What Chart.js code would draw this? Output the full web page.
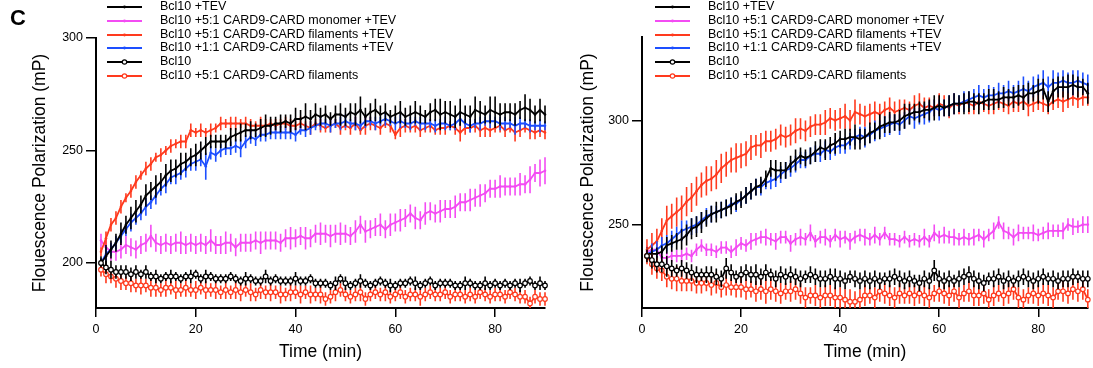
<!DOCTYPE html>
<html>
<head>
<meta charset="utf-8">
<script src="https://cdn.jsdelivr.net/npm/chart.js@4.4.1/dist/chart.umd.min.js"></script>
<style>
  body { margin: 0; background: #fff; font-family: "Liberation Sans", Arial, sans-serif; }
  #wrap { position: relative; width: 1093px; height: 368px; overflow: hidden; }
  #wrap canvas { position: absolute; top: 0; }
  .tag { position: absolute; left: 10px; top: 5px; font-weight: bold; font-size: 22px; }
  .legend { position: absolute; top: 0; font-size: 12.5px; color: #000; }
  .row { position: absolute; left: 0; height: 14px; white-space: nowrap; }
  .row svg { position: absolute; left: 0; top: 0; }
  .row span { position: absolute; top: -1px; line-height: 14px; }
</style>
</head>
<body>
<div id="wrap">
  <canvas id="left" width="560" height="368" style="left:0"></canvas>
  <canvas id="right" width="545" height="368" style="left:548px"></canvas>
  <div class="tag">C</div>
  <div class="legend" id="legL" style="left:107px"></div>
  <div class="legend" id="legR" style="left:655px"></div>
</div>
<script>
// time points (min)
const TIME = [1,2,3,4,5,6,7,8,9,10,11,12,13,14,15,16,17,18,19,20,21,22,23,24,25,26,27,28,29,30,
  31,32,33,34,35,36,37,38,39,40,41,42,43,44,45,46,47,48,49,50,51,52,53,54,55,56,57,58,59,60,
  61,62,63,64,65,66,67,68,69,70,71,72,73,74,75,76,77,78,79,80,81,82,83,84,85,86,87,88,89,90];

const X_TICKS = [0, 20, 40, 60, 80];
const L_Y_TICKS = [200, 250, 300];
const R_Y_TICKS = [250, 300];

const LEGEND_LABELS = [
  'Bcl10 +TEV',
  'Bcl10 +5:1 CARD9-CARD monomer +TEV',
  'Bcl10 +5:1 CARD9-CARD filaments +TEV',
  'Bcl10 +1:1 CARD9-CARD filaments +TEV',
  'Bcl10',
  'Bcl10 +5:1 CARD9-CARD filaments'
];

// ---- left panel: means ----
const L_TEV_BLACK = [200,203,206,209,213,217,220,223,226,230, 232,234,236,239,241,242,244,245,247,248,
  250,252,254,254,254,254,256,257,258,259, 259,259,260,261,261,262,262,263,262,264,
  264,265,264,266,265,266,264,266,266,265, 267,266,268,265,267,268,266,267,265,266,
  267,265,266,267,266,265,267,268,266,267, 266,265,267,266,265,268,267,266,268,267,
  266,267,267,266,268,269,268,266,268,266];
const L_TEV_RED = [205,211,217,220,225,229,232,236,239,242, 244,247,248,250,252,253,254,254,259,258,
  259,258,259,260,262,262,262,262,262,262, 261,261,261,261,262,261,262,262,261,261,
  262,261,260,262,261,260,261,262,260,261, 260,262,259,261,262,261,260,262,261,257,
  260,261,260,261,259,260,261,259,260,260, 261,260,258,260,260,261,259,260,259,260,
  261,259,260,258,259,260,259,258,259,258];
const L_TEV_BLUE = [200,204,206,209,212,215,218,220,222,225, 227,230,233,235,238,239,240,242,244,245,
  246,243,249,248,250,251,251,252,251,254, 256,255,257,257,258,258,258,258,258,257,
  259,259,260,261,262,262,261,262,262,263, 262,262,261,263,263,262,263,264,263,262,
  263,262,262,263,262,262,262,261,262,262, 261,262,264,262,261,262,262,263,263,263,
  262,262,262,261,262,262,261,261,261,261];
const L_TEV_MAG = [210,207,205,205,206,208,207,206,208,209, 212,209,208,209,208,209,209,208,209,208,
  209,208,210,208,208,209,209,207,209,209, 209,210,209,210,210,210,209,211,211,211,
  212,211,211,213,213,213,212,213,213,213, 212,214,217,214,215,216,217,215,217,218,
  219,220,222,220,219,222,223,222,223,224, 224,225,227,227,228,229,230,231,233,233,
  234,234,234,234,235,235,237,240,240,241];
const L_BCL_BLACK = [200,198,197,196,196,196,195,196,195,196, 194,194,193,194,194,194,193,194,194,195,
  193,194,194,193,193,193,194,193,192,193, 193,192,192,194,192,193,192,192,192,193,
  192,192,193,191,191,191,190,191,193,191, 190,191,192,191,190,191,192,191,190,190,
  191,191,192,191,190,191,192,190,191,191, 191,190,190,191,191,190,190,191,190,191,
  190,191,190,191,190,191,192,190,191,190];
const L_BCL_RED = [197,195,194,193,192,191,191,190,190,190, 189,189,188,189,189,188,188,189,188,188,
  189,188,188,188,187,188,187,188,187,188, 187,186,188,187,187,187,186,186,187,187,
  186,187,186,186,186,184,185,187,188,186, 185,186,187,184,186,187,186,187,185,186,
  187,185,186,186,185,186,187,186,186,187, 185,186,186,185,186,185,187,186,185,186,
  186,185,187,186,185,185,182,185,184,184];

// ---- left panel: error (SD) ----
const LE_TEV_BLACK = [3,5,4,4,5,4,5,5,4,5, 4,5,4,5,5,4,5,4,4,5, 4,4,3,3,3,3,4,3,4,3, 4,3,4,5,4,3,4,3,4,5,
  4,6,4,5,4,4,3,4,5,4, 4,5,6,4,4,5,4,4,3,4, 5,4,4,5,4,3,4,5,7,5, 6,5,6,4,5,6,5,4,6,7, 5,4,4,5,4,6,5,4,5,4];
const LE_TEV_RED = [2,3,3,3,3,2,3,3,2,3, 3,2,3,2,3,2,3,3,3,2, 3,2,3,2,3,2,3,3,2,3, 3,2,4,3,2,3,2,3,3,2,
  3,2,3,2,3,2,3,2,3,2, 3,3,2,4,3,2,3,2,3,2, 4,3,2,3,3,2,3,2,3,3, 2,3,4,3,2,3,3,4,3,2, 3,3,2,4,3,2,4,3,3,3];
const LE_TEV_BLUE = [2,3,3,3,3,3,4,3,3,4, 3,4,3,4,3,4,3,4,3,4, 3,6,3,3,3,3,3,3,4,3, 3,3,3,3,3,3,3,3,3,3,
  2,3,3,2,3,2,3,2,3,3, 2,3,2,3,2,3,2,3,2,3, 3,2,3,2,3,3,2,3,2,3, 2,3,3,2,3,2,3,2,3,2, 3,3,2,4,3,2,3,2,3,2];
const LE_TEV_MAG = [3,4,4,4,4,4,4,4,4,4, 5,4,4,4,4,4,5,4,4,4, 4,4,5,4,4,5,4,4,4,4, 4,4,5,4,4,4,4,4,5,4,
  4,5,4,4,5,4,5,4,5,4, 4,5,4,5,4,4,5,4,5,4, 5,4,4,5,4,5,4,4,5,4, 4,5,4,4,5,4,5,4,4,4, 5,4,4,4,5,4,6,4,6,6];
const LE_BCL_BLACK = [2,3,4,3,3,3,3,3,2,3, 2,3,2,2,3,2,2,2,3,2, 2,3,2,2,2,2,2,2,2,3, 2,2,2,3,2,2,2,2,2,3,
  2,2,2,2,2,2,2,3,2,3, 2,2,3,2,2,2,2,2,3,2, 2,2,2,3,2,2,2,2,2,2, 2,2,2,3,2,2,2,3,2,2, 2,2,2,2,3,2,2,2,3,2];
const LE_BCL_RED = [3,4,3,4,4,3,4,3,4,3, 4,4,3,4,3,4,3,4,3,4, 3,4,3,4,3,4,3,4,4,3, 4,3,4,3,4,3,4,3,4,3,
  4,3,4,3,4,3,3,4,3,3, 3,3,4,3,3,3,3,4,3,3, 3,3,3,3,4,3,3,3,3,3, 3,3,3,3,3,3,3,3,3,3, 3,3,3,3,3,3,3,3,3,3];

// ---- right panel: means ----
const R_TEV_BLACK = [236,236,236,237,240,241,242,243,245,248, 249,251,253,255,256,257,258,259,261,262,
  264,266,268,269,272,277,276,276,276,279, 281,283,282,283,285,287,286,288,289,291,
  291,292,292,291,292,294,295,297,298,299, 299,300,302,303,304,304,305,305,306,307,
  306,307,308,308,308,309,309,308,309,310, 310,310,311,311,311,312,311,313,313,314,
  315,309,314,316,316,316,317,316,316,313];
const R_TEV_RED = [238,240,242,247,252,254,256,258,261,263, 266,269,271,272,274,277,279,281,282,283,
  284,287,288,288,290,290,291,293,292,293, 295,296,295,297,298,298,299,301,300,301,
  302,300,304,303,302,303,304,303,305,306, 304,305,306,305,307,308,306,307,306,308,
  307,306,308,307,309,308,307,309,308,307, 308,309,308,307,309,308,309,307,308,309,
  308,307,309,310,309,310,311,310,311,311];
const R_TEV_BLUE = [236,237,238,240,241,243,245,247,248,249, 250,252,254,255,256,257,258,260,260,262,
  264,266,268,268,270,271,272,274,276,277, 279,281,281,283,284,284,286,285,287,288,
  288,290,292,293,292,293,295,296,297,298, 299,298,300,302,301,302,303,304,306,305,
  306,307,308,308,309,310,311,312,311,312, 312,313,313,314,313,314,315,314,316,317,
  318,316,318,318,319,318,318,319,318,317];
const R_TEV_MAG = [237,238,238,234,234,235,235,235,236,235, 238,240,238,238,237,239,239,237,239,241,
  240,242,243,244,244,243,242,244,244,241, 243,244,243,246,242,244,244,242,245,243,
  244,242,244,245,244,243,245,243,246,243, 243,242,244,242,243,242,244,242,246,244,
  245,244,244,243,244,243,244,245,243,245, 247,251,247,246,244,246,246,246,246,245,
  246,247,247,247,247,250,249,249,250,250];
const R_BCL_BLACK = [235,233,231,231,230,229,228,229,228,227, 226,226,226,226,225,224,229,227,225,226,
  227,226,226,225,227,226,224,226,225,226, 225,224,225,226,225,224,224,225,224,224,
  223,225,224,223,224,223,224,223,224,224, 225,224,223,224,223,222,224,223,228,224,
  223,224,223,224,225,226,224,223,222,224, 224,225,223,224,223,224,225,224,223,224,
  225,224,224,223,224,224,225,225,224,224];
const R_BCL_RED = [235,231,229,228,225,224,224,223,223,223, 222,222,222,221,222,220,221,220,220,220,
  219,219,218,219,218,219,218,217,218,218, 219,217,215,216,216,215,216,216,215,215,
  214,213,213,214,216,216,215,218,217,216, 215,217,216,217,216,217,216,215,217,218,
  217,216,218,215,217,218,216,216,217,214, 216,217,216,217,219,215,214,216,217,216,
  217,216,215,218,218,217,219,218,219,214];

// ---- right panel: error (SD) ----
const RE_TEV_BLACK = [3,3,3,3,4,4,4,5,5,5, 5,5,4,4,5,4,4,4,4,4, 4,4,4,4,4,4,5,4,4,4, 5,4,4,4,5,4,5,4,5,4,
  5,4,6,5,4,5,4,6,4,5, 4,5,6,5,4,5,4,5,6,5, 4,5,5,4,5,5,4,5,4,5, 5,4,5,4,5,5,6,5,4,6, 5,5,6,5,5,6,5,5,4,5];
const RE_TEV_RED = [5,6,6,6,7,6,7,6,7,7, 7,6,7,6,7,7,6,6,7,6, 6,6,5,6,5,5,5,5,5,5, 6,5,5,5,5,5,6,5,5,5,
  6,5,6,5,5,5,5,5,4,5, 5,5,4,4,5,5,5,4,4,5, 5,5,5,4,4,5,4,4,4,4, 5,4,4,4,5,4,4,5,4,4, 4,4,4,4,5,4,4,4,4,4];
const RE_TEV_BLUE = [3,4,4,4,4,4,4,5,4,4, 4,4,4,4,3,4,4,3,4,3, 4,4,4,4,3,4,4,4,4,4, 4,4,4,4,4,4,4,4,4,4,
  4,4,4,4,5,4,5,4,5,5, 4,5,4,4,5,4,5,5,4,5, 4,5,5,4,5,4,4,5,4,5, 4,5,4,5,4,5,6,5,5,5, 6,5,6,5,5,5,6,5,5,5];
const RE_TEV_MAG = [3,3,3,3,3,3,3,3,3,3, 3,3,3,3,3,3,3,3,4,3, 3,4,3,3,4,3,4,3,3,4, 3,4,3,4,3,3,4,3,3,4,
  3,4,3,3,4,3,4,3,3,3, 3,3,3,3,3,3,4,3,4,3, 4,3,4,3,4,3,4,3,4,3, 4,3,4,3,4,4,3,3,4,3, 3,4,3,3,4,3,4,3,4,4];
const RE_BCL_BLACK = [3,4,4,4,5,4,3,4,4,4, 4,3,4,4,4,4,5,4,3,4, 4,4,5,4,4,3,4,4,4,4, 4,4,3,4,4,4,4,4,5,4,
  4,3,4,4,4,4,4,4,3,4, 4,4,4,4,3,4,4,4,5,4, 4,4,3,4,4,4,4,4,4,3, 4,4,4,4,3,4,4,4,4,4, 4,3,4,4,4,4,4,3,4,4];
const RE_BCL_RED = [4,5,5,5,5,5,6,5,5,5, 5,5,4,5,5,5,5,4,5,5, 5,4,5,5,6,5,5,5,4,5, 5,5,5,4,5,5,5,5,5,5,
  5,6,5,5,5,4,5,5,5,5, 5,5,4,5,5,5,5,5,4,5, 5,5,5,5,4,5,5,5,5,5, 5,4,5,5,5,5,5,4,5,5, 5,5,5,4,5,5,5,5,5,5];

const FONT = '"Liberation Sans", Arial, sans-serif';
const BLACK = '#000000', MAGENTA = '#f34cf3', RED = '#ff3a1e', BLUE = '#1d4fff';

// legend order: colour / open-circle marker
const LEGEND_STYLE = [
  { color: BLACK, open: false },
  { color: MAGENTA, open: false },
  { color: RED, open: false },
  { color: BLUE, open: false },
  { color: BLACK, open: true },
  { color: RED, open: true }
];

// vertical SD bars, drawn under each dataset's own line
const errorBars = {
  id: 'errorBars',
  beforeDatasetDraw(chart, args) {
    const ds = chart.data.datasets[args.index];
    if (!ds.err) return;
    const ctx = chart.ctx, y = chart.scales.y, a = chart.chartArea;
    ctx.save();
    ctx.beginPath();
    ctx.rect(a.left - 5, a.top - 20, a.right - a.left + 10, a.bottom - a.top + 20);
    ctx.clip();
    ctx.strokeStyle = ds.borderColor;
    ctx.lineWidth = 1.6;
    ctx.beginPath();
    args.meta.data.forEach((pt, i) => {
      const v = ds.data[i].y, e = ds.err[i];
      ctx.moveTo(pt.x, y.getPixelForValue(v - e));
      ctx.lineTo(pt.x, y.getPixelForValue(v + e));
    });
    ctx.stroke();
    ctx.restore();
  }
};

function series(vals, err, style) {
  return {
    data: TIME.map((t, i) => ({ x: t, y: vals[i] })),
    err,
    borderColor: style.color,
    backgroundColor: style.open ? '#ffffff' : style.color,
    pointBackgroundColor: style.open ? '#ffffff' : style.color,
    pointBorderColor: style.color,
    pointRadius: style.open ? 2.3 : 1.3,
    pointBorderWidth: style.open ? 1.2 : 0,
    borderWidth: 1.8,
    tension: 0,
    clip: false
  };
}

function makeChart(id, sets, yMin, yMax, yTicks, pad, yWidth) {
  return new Chart(document.getElementById(id), {
    type: 'line',
    data: { datasets: sets },
    plugins: [errorBars],
    options: {
      responsive: false,
      animation: false,
      layout: { padding: pad },
      plugins: { legend: { display: false }, tooltip: { enabled: false } },
      scales: {
        x: {
          type: 'linear', min: 0, max: 90,
          afterFit: s => { s.height = 60; },
          afterBuildTicks: s => { s.ticks = X_TICKS.map(v => ({ value: v })); },
          grid: { display: true, drawOnChartArea: false, drawTicks: true, tickLength: 9, color: BLACK, lineWidth: 1.5 },
          border: { display: true, color: BLACK, width: 2 },
          ticks: { color: BLACK, font: { size: 12.5, family: FONT }, padding: 5, maxRotation: 0 },
          title: { display: true, text: 'Time (min)', color: BLACK, font: { size: 17.5, family: FONT }, padding: { top: 0, bottom: 5 } }
        },
        y: {
          min: yMin, max: yMax,
          afterFit: s => { s.width = yWidth; },
          afterBuildTicks: s => { s.ticks = yTicks.map(v => ({ value: v })); },
          grid: { display: true, drawOnChartArea: false, drawTicks: true, tickLength: 10, color: BLACK, lineWidth: 1.5 },
          border: { display: true, color: BLACK, width: 2 },
          ticks: { color: BLACK, font: { size: 12.5, family: FONT }, padding: 3 },
          title: { display: true, text: 'Flouescence Polarization (mP)', color: BLACK, font: { size: 17.5, family: FONT }, padding: { top: 30, bottom: 0 } }
        }
      }
    }
  });
}

// first dataset is drawn on top
makeChart('left', [
  series(L_BCL_BLACK, LE_BCL_BLACK, LEGEND_STYLE[4]),
  series(L_BCL_RED, LE_BCL_RED, LEGEND_STYLE[5]),
  series(L_TEV_BLACK, LE_TEV_BLACK, LEGEND_STYLE[0]),
  series(L_TEV_BLUE, LE_TEV_BLUE, LEGEND_STYLE[3]),
  series(L_TEV_RED, LE_TEV_RED, LEGEND_STYLE[2]),
  series(L_TEV_MAG, LE_TEV_MAG, LEGEND_STYLE[1])
], 180, 300, L_Y_TICKS, { top: 38, right: 15, left: 0, bottom: 0 }, 96);

makeChart('right', [
  series(R_BCL_BLACK, RE_BCL_BLACK, LEGEND_STYLE[4]),
  series(R_BCL_RED, RE_BCL_RED, LEGEND_STYLE[5]),
  series(R_TEV_BLACK, RE_TEV_BLACK, LEGEND_STYLE[0]),
  series(R_TEV_BLUE, RE_TEV_BLUE, LEGEND_STYLE[3]),
  series(R_TEV_RED, RE_TEV_RED, LEGEND_STYLE[2]),
  series(R_TEV_MAG, RE_TEV_MAG, LEGEND_STYLE[1])
], 210, 340, R_Y_TICKS, { top: 37, right: 3, left: 0, bottom: 0 }, 94);

// legend rows: line sample with marker, then label
function buildLegend(id) {
  const box = document.getElementById(id);
  LEGEND_LABELS.forEach((txt, i) => {
    const st = LEGEND_STYLE[i];
    const row = document.createElement('div');
    row.className = 'row';
    row.style.top = (i * 13.8) + 'px';
    const mark = st.open
      ? `<circle cx="17.5" cy="7" r="2.2" fill="#fff" stroke="${st.color}" stroke-width="1.2"/>`
      : `<circle cx="17.5" cy="7" r="1.4" fill="${st.color}"/>`;
    row.innerHTML = `<svg width="36" height="14"><line x1="0" y1="7" x2="35" y2="7" stroke="${st.color}" stroke-width="1.8"/>${mark}</svg><span style="left:53px">${txt}</span>`;
    box.appendChild(row);
  });
}
buildLegend('legL');
buildLegend('legR');
</script>
</body>
</html>
